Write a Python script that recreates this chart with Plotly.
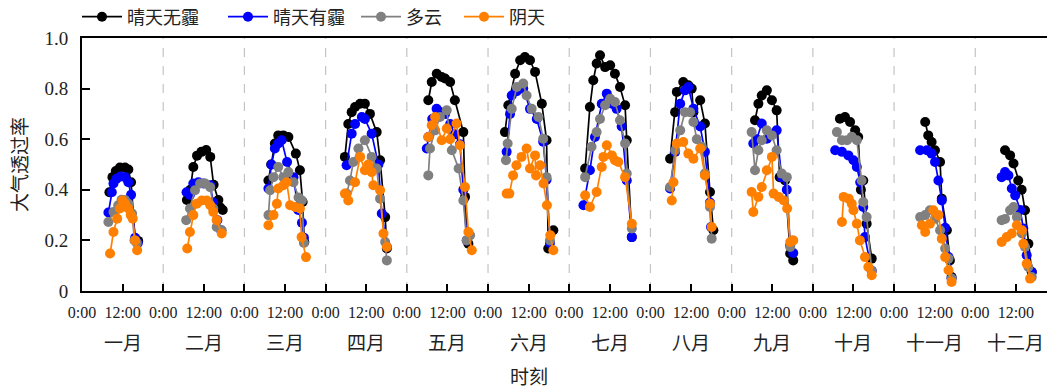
import plotly.graph_objects as go

# Month names (one panel of 24 h per month)
months = ["一月", "二月", "三月", "四月", "五月", "六月",
          "七月", "八月", "九月", "十月", "十一月", "十二月"]

series_names = ["晴天无霾", "晴天有霾", "多云", "阴天"]
series_colors = ["#000000", "#0000FF", "#808080", "#FF8000"]

# Local time (hours) and atmospheric transmittance, one inner list per month
clear_hours = [
    [8.1, 9.0, 10.0, 11.2, 12.7, 13.7, 14.5, 15.7, 16.6],
    [7.0, 8.0, 8.9, 10.0, 11.3, 12.7, 13.9, 14.9, 16.3, 16.9, 17.6],
    [7.1, 7.9, 9.0, 10.0, 11.5, 13.0, 15.2, 16.4, 17.2, 17.7],
    [5.7, 6.7, 7.7, 8.7, 10.2, 11.6, 13.1, 15.1, 16.1, 17.6, 18.1],
    [6.35, 7.36, 8.84, 10.3, 11.3, 12.8, 14.2, 16.7, 17.2, 18.2],
    [5.0, 6.0, 8.0, 9.5, 10.9, 12.4, 13.9, 15.9, 17.3, 17.8, 19.3],
    [4.7, 6.1, 7.1, 8.1, 9.1, 10.6, 12.1, 13.5, 15.0, 16.5, 17.0, 18.5],
    [5.8, 7.3, 7.8, 9.7, 11.2, 12.2, 12.7, 14.7, 16.1, 17.6, 18.6],
    [6.9, 7.9, 8.9, 10.4, 11.9, 13.3, 14.2, 15.8, 17.3, 18.2],
    [8.0, 9.5, 11.0, 12.5, 13.4, 14.2, 14.9, 15.9, 17.4],
    [9.2, 10.1, 11.1, 12.1, 13.6, 14.1, 15.6, 16.5, 17.0],
    [8.8, 10.3, 11.3, 12.7, 13.7, 14.7, 15.7, 16.7],
]
clear_vals = [
    [0.39, 0.45, 0.474, 0.488, 0.488, 0.48, 0.43, 0.203, 0.198],
    [0.36, 0.40, 0.49, 0.535, 0.55, 0.557, 0.53, 0.42, 0.36, 0.33, 0.32],
    [0.437, 0.50, 0.583, 0.615, 0.615, 0.609, 0.543, 0.477, 0.352, 0.194],
    [0.53, 0.66, 0.707, 0.727, 0.74, 0.74, 0.70, 0.628, 0.517, 0.292, 0.168],
    [0.754, 0.826, 0.859, 0.846, 0.84, 0.826, 0.754, 0.628, 0.372, 0.187],
    [0.628, 0.734, 0.859, 0.912, 0.925, 0.912, 0.866, 0.74, 0.596, 0.168, 0.24],
    [0.484, 0.727, 0.833, 0.899, 0.932, 0.885, 0.892, 0.859, 0.806, 0.734, 0.596, 0.213],
    [0.523, 0.707, 0.787, 0.826, 0.813, 0.80, 0.707, 0.754, 0.662, 0.391, 0.24],
    [0.675, 0.74, 0.773, 0.793, 0.754, 0.714, 0.45, 0.437, 0.148, 0.121],
    [0.681, 0.688, 0.668, 0.635, 0.609, 0.40, 0.437, 0.266, 0.128],
    [0.668, 0.615, 0.589, 0.556, 0.51, 0.365, 0.24, 0.121, 0.055],
    [0.556, 0.536, 0.504, 0.437, 0.40, 0.319, 0.187, 0.075],
]

haze_hours = [
    [7.8, 8.8, 9.3, 10.2, 11.4, 12.7, 13.7, 14.5, 15.7, 16.5],
    [6.9, 7.9, 8.9, 10.4, 11.9, 13.9, 14.8, 16.0, 17.1],
    [7.1, 8.0, 9.0, 10.0, 11.0, 12.6, 14.5, 15.9, 17.0, 17.6],
    [6.2, 7.7, 8.7, 10.7, 11.6, 13.6, 15.6, 16.6, 18.1],
    [5.9, 6.4, 7.5, 8.8, 9.8, 11.3, 12.8, 14.2, 15.7, 16.7, 17.7],
    [5.5, 6.5, 7.0, 8.5, 10.4, 12.4, 14.4, 16.3, 17.3, 18.3],
    [4.2, 6.1, 7.6, 9.6, 11.1, 12.6, 14.0, 15.5, 17.0, 18.5],
    [5.8, 7.3, 8.8, 10.2, 11.2, 12.7, 14.7, 16.1, 17.6, 17.9],
    [6.4, 7.4, 8.9, 10.4, 11.9, 13.3, 14.8, 16.3, 17.3, 18.2],
    [6.6, 8.6, 10.5, 12.0, 13.0, 14.0, 14.9, 15.4, 17.4],
    [7.7, 9.7, 11.1, 12.1, 13.1, 14.1, 15.1, 16.1, 17.0],
    [7.8, 8.8, 9.8, 10.8, 11.8, 13.3, 14.2, 15.2, 16.7],
]
haze_vals = [
    [0.31, 0.39, 0.425, 0.444, 0.453, 0.45, 0.43, 0.38, 0.21, 0.19],
    [0.39, 0.38, 0.425, 0.43, 0.425, 0.418, 0.35, 0.28, 0.24],
    [0.405, 0.50, 0.563, 0.583, 0.596, 0.51, 0.45, 0.32, 0.27, 0.21],
    [0.497, 0.622, 0.66, 0.688, 0.68, 0.622, 0.50, 0.306, 0.174],
    [0.563, 0.609, 0.68, 0.72, 0.708, 0.70, 0.66, 0.62, 0.58, 0.40, 0.20],
    [0.55, 0.70, 0.773, 0.79, 0.80, 0.72, 0.68, 0.59, 0.44, 0.19],
    [0.339, 0.477, 0.609, 0.74, 0.78, 0.74, 0.72, 0.65, 0.437, 0.213],
    [0.405, 0.55, 0.74, 0.793, 0.806, 0.72, 0.65, 0.55, 0.35, 0.253],
    [0.583, 0.60, 0.662, 0.602, 0.62, 0.635, 0.45, 0.40, 0.18, 0.15],
    [0.556, 0.55, 0.536, 0.517, 0.49, 0.43, 0.332, 0.213, 0.08],
    [0.556, 0.556, 0.543, 0.51, 0.437, 0.358, 0.25, 0.134, 0.049],
    [0.45, 0.47, 0.457, 0.405, 0.378, 0.32, 0.247, 0.141, 0.075],
]

cloudy_hours = [
    [7.8, 9.3, 10.7, 11.7, 12.7, 13.7, 14.8, 15.5, 16.2],
    [6.8, 7.9, 9.4, 10.9, 12.4, 13.9, 14.8, 15.8, 17.3],
    [7.1, 7.6, 8.6, 10.0, 11.5, 13.0, 14.5, 16.0, 17.0, 17.6],
    [6.2, 7.2, 8.2, 9.7, 11.6, 13.6, 15.1, 16.1, 17.6, 18.1],
    [6.35, 6.85, 8.35, 9.8, 11.8, 13.3, 15.3, 16.7, 17.7, 18.7],
    [5.3, 5.8, 7.0, 8.5, 10.4, 11.4, 12.9, 14.9, 16.3, 17.3, 18.3],
    [4.7, 6.6, 8.1, 9.1, 10.6, 12.1, 13.5, 15.0, 16.5, 17.0, 18.5],
    [5.8, 7.3, 8.8, 10.2, 11.7, 12.7, 13.7, 15.2, 16.1, 17.6, 18.1],
    [5.9, 6.9, 7.9, 8.9, 10.4, 11.9, 13.3, 14.8, 16.3, 17.3, 18.0],
    [7.1, 8.6, 10.1, 11.5, 13.0, 14.4, 14.9, 15.9, 17.4],
    [7.7, 9.2, 10.6, 12.1, 13.6, 15.1, 16.1, 17.0],
    [7.8, 8.8, 10.3, 11.3, 12.3, 13.8, 14.7, 15.7, 16.7],
]
cloudy_vals = [
    [0.273, 0.312, 0.339, 0.361, 0.36, 0.345, 0.306, 0.20, 0.19],
    [0.28, 0.326, 0.398, 0.425, 0.425, 0.41, 0.326, 0.253, 0.24],
    [0.30, 0.398, 0.45, 0.49, 0.45, 0.47, 0.43, 0.37, 0.358, 0.19],
    [0.385, 0.437, 0.51, 0.563, 0.596, 0.53, 0.484, 0.365, 0.194, 0.121],
    [0.457, 0.563, 0.635, 0.688, 0.714, 0.556, 0.484, 0.358, 0.20, 0.22],
    [0.517, 0.583, 0.72, 0.806, 0.82, 0.773, 0.72, 0.688, 0.602, 0.45, 0.20],
    [0.45, 0.57, 0.628, 0.68, 0.734, 0.76, 0.747, 0.675, 0.583, 0.464, 0.247],
    [0.411, 0.556, 0.635, 0.707, 0.707, 0.668, 0.60, 0.57, 0.464, 0.332, 0.207],
    [0.628, 0.477, 0.556, 0.596, 0.635, 0.615, 0.556, 0.464, 0.45, 0.174, 0.20],
    [0.628, 0.596, 0.596, 0.61, 0.596, 0.437, 0.352, 0.292, 0.08],
    [0.292, 0.30, 0.319, 0.286, 0.24, 0.168, 0.128, 0.049],
    [0.28, 0.285, 0.319, 0.332, 0.292, 0.227, 0.174, 0.095, 0.055],
]

overcast_hours = [
    [8.3, 9.3, 10.4, 11.2, 12.0, 12.7, 13.7, 14.4, 15.0, 15.7, 16.3],
    [7.1, 7.9, 8.9, 9.9, 11.4, 12.9, 13.9, 14.8, 15.8, 17.3],
    [7.1, 8.6, 9.6, 10.0, 11.5, 12.5, 13.5, 15.0, 16.4, 16.9, 18.2],
    [5.7, 6.7, 8.7, 10.2, 11.6, 12.6, 13.6, 14.1, 16.1, 17.1, 18.1],
    [6.35, 7.36, 8.35, 10.3, 11.8, 12.8, 14.7, 15.7, 17.2, 18.2, 19.2],
    [5.5, 6.3, 7.4, 8.4, 9.9, 11.4, 12.4, 13.9, 14.2, 15.4, 16.4, 17.4, 18.4, 19.3],
    [4.7, 6.1, 8.1, 9.6, 10.1, 11.1, 12.6, 13.5, 14.5, 16.5, 18.5],
    [6.3, 6.8, 7.8, 9.7, 11.2, 12.7, 14.7, 16.1, 17.6, 18.1],
    [5.9, 6.4, 7.9, 8.9, 10.4, 11.9, 12.4, 13.9, 15.4, 16.4, 17.3, 18.2],
    [8.6, 9.1, 10.6, 11.5, 12.0, 13.0, 13.9, 15.4, 16.4, 17.4],
    [8.2, 9.2, 10.6, 11.6, 13.1, 14.1, 15.1, 16.1, 17.0],
    [7.8, 9.3, 10.8, 12.3, 13.8, 14.2, 15.2, 16.2],
]
overcast_vals = [
    [0.148, 0.233, 0.286, 0.326, 0.358, 0.345, 0.326, 0.30, 0.286, 0.20, 0.161],
    [0.168, 0.233, 0.30, 0.345, 0.358, 0.358, 0.339, 0.312, 0.28, 0.227],
    [0.26, 0.30, 0.345, 0.405, 0.418, 0.43, 0.339, 0.332, 0.326, 0.213, 0.134],
    [0.385, 0.358, 0.43, 0.53, 0.477, 0.50, 0.47, 0.418, 0.398, 0.227, 0.174],
    [0.609, 0.655, 0.688, 0.596, 0.642, 0.60, 0.662, 0.576, 0.411, 0.233, 0.161],
    [0.385, 0.385, 0.457, 0.497, 0.53, 0.563, 0.484, 0.536, 0.457, 0.497, 0.425, 0.339, 0.22, 0.161],
    [0.378, 0.332, 0.391, 0.49, 0.53, 0.576, 0.536, 0.517, 0.51, 0.45, 0.266],
    [0.358, 0.43, 0.583, 0.589, 0.543, 0.523, 0.563, 0.457, 0.345, 0.253],
    [0.391, 0.312, 0.372, 0.411, 0.477, 0.53, 0.385, 0.372, 0.358, 0.326, 0.194, 0.20],
    [0.273, 0.372, 0.365, 0.345, 0.319, 0.266, 0.20, 0.134, 0.095, 0.062],
    [0.26, 0.233, 0.266, 0.319, 0.30, 0.207, 0.134, 0.082, 0.036],
    [0.194, 0.213, 0.227, 0.26, 0.24, 0.187, 0.108, 0.049],
]

HOURS_PER_MONTH = 24
WIDTH, HEIGHT = 1047, 389


def flatten(hours_by_month, vals_by_month):
    """Place each month in its own 24 h panel; None breaks the line between months."""
    xs, ys = [], []
    for m, (hh, vv) in enumerate(zip(hours_by_month, vals_by_month)):
        xs.extend(m * HOURS_PER_MONTH + h for h in hh)
        ys.extend(vv)
        xs.append(None)
        ys.append(None)
    return xs, ys


all_hours = [clear_hours, haze_hours, cloudy_hours, overcast_hours]
all_vals = [clear_vals, haze_vals, cloudy_vals, overcast_vals]

# Each series gets its own legend box so the entries can sit at set x positions
legend_ids = ["legend", "legend2", "legend3", "legend4"]
legend_px = [77, 223, 356, 459]

fig = go.Figure()
for name, color, hh, vv, lid in zip(series_names, series_colors, all_hours, all_vals, legend_ids):
    x, y = flatten(hh, vv)
    fig.add_trace(go.Scatter(
        x=x, y=y, name=name, mode="lines+markers",
        line=dict(color=color, width=1.7),
        marker=dict(color=color, size=10),
        connectgaps=False, legend=lid, showlegend=True,
    ))

# Dashed separators between months
for m in range(1, len(months)):
    fig.add_shape(type="line", xref="x", yref="paper",
                  x0=m * HOURS_PER_MONTH, x1=m * HOURS_PER_MONTH, y0=0, y1=1,
                  line=dict(color="#C4C4C4", width=1.2, dash="dash"), layer="below")

# Month names below the time ticks
for m, label in enumerate(months):
    fig.add_annotation(x=m * HOURS_PER_MONTH + 12, y=0, xref="x", yref="paper",
                       yshift=-52, text=label, showarrow=False,
                       font=dict(size=19, color="#222222"), yanchor="middle")

# Axis title for time, centred under the June panel
fig.add_annotation(x=5 * HOURS_PER_MONTH + 12, y=0, xref="x", yref="paper",
                   yshift=-86, text="时刻", showarrow=False,
                   font=dict(size=19, color="#222222"), yanchor="middle")

tick_vals = list(range(0, len(months) * HOURS_PER_MONTH, 12))
tick_text = ["0:00" if v % 24 == 0 else "12:00" for v in tick_vals]

fig.update_xaxes(
    range=[0, 285.2], tickvals=tick_vals, ticktext=tick_text,
    ticks="inside", ticklen=7, tickwidth=1.5, tickcolor="black",
    showline=True, linecolor="black", linewidth=2, mirror=True,
    showgrid=False, zeroline=False,
    tickfont=dict(family="Liberation Serif", size=16, color="#222222"),
    ticklabelstandoff=6,
)
fig.update_yaxes(
    range=[0, 1.0], tickvals=[0, 0.2, 0.4, 0.6, 0.8, 1.0],
    ticktext=["0", "0.2", "0.4", "0.6", "0.8", "1.0"],
    ticks="inside", ticklen=8, tickwidth=1.5, tickcolor="black",
    showline=True, linecolor="black", linewidth=2,
    showgrid=False, zeroline=False,
    tickfont=dict(family="Liberation Serif", size=19, color="#222222"),
    ticklabelstandoff=8,
    title=dict(text="大气透过率", font=dict(size=19, color="#222222"), standoff=12),
)

legend_style = dict(orientation="h", xref="container", yref="container",
                    xanchor="left", yanchor="middle", y=1 - 17 / HEIGHT,
                    font=dict(size=18, family="Noto Sans CJK SC", color="#222222"),
                    bgcolor="rgba(0,0,0,0)", itemwidth=40)
legends = {lid: dict(legend_style, x=px / WIDTH)
           for lid, px in zip(legend_ids, legend_px)}

fig.update_layout(
    width=WIDTH, height=HEIGHT,
    # fixed margins: the legends sit in the top margin without resizing the plot
    margin=dict(l=82, r=0, t=38, b=98, autoexpand=False),
    plot_bgcolor="white", paper_bgcolor="white",
    font=dict(family="Liberation Serif, Noto Sans CJK SC", color="#222222"),
    showlegend=True,
    **legends,
)

fig.write_html("out.html")
